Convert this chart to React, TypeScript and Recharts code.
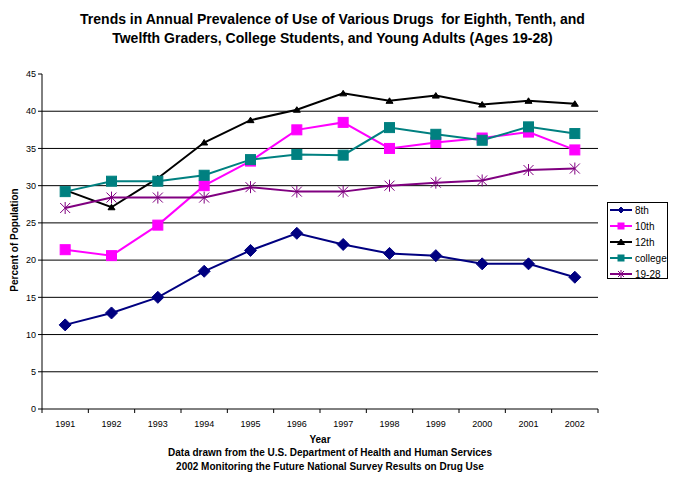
import { LineChart, Line, XAxis, YAxis, CartesianGrid, Legend } from 'recharts';

const years = [1991, 1992, 1993, 1994, 1995, 1996, 1997, 1998, 1999, 2000, 2001, 2002];
const eighth = [11.3, 12.9, 15.0, 18.5, 21.3, 23.6, 22.1, 20.9, 20.6, 19.5, 19.5, 17.7];
const tenth = [21.4, 20.6, 24.7, 30.0, 33.3, 37.5, 38.5, 35.0, 35.8, 36.4, 37.2, 34.8];
const twelfth = [29.4, 27.1, 31.0, 35.8, 38.8, 40.2, 42.4, 41.4, 42.1, 40.9, 41.4, 41.0];
const college = [29.2, 30.6, 30.6, 31.4, 33.5, 34.2, 34.1, 37.8, 36.9, 36.1, 37.9, 37.0];
const youngAdults = [27.0, 28.4, 28.4, 28.4, 29.8, 29.2, 29.2, 30.0, 30.4, 30.7, 32.1, 32.3];
const yTicks = [0, 5, 10, 15, 20, 25, 30, 35, 40, 45];
const gridValues = [5, 10, 15, 20, 25, 30, 35, 40];

const data = years.map((year, i) => ({
  year,
  eighth: eighth[i],
  tenth: tenth[i],
  twelfth: twelfth[i],
  college: college[i],
  youngAdults: youngAdults[i],
}));

const boundaries = [...years.map((y) => y - 0.5), years[years.length - 1] + 0.5];

const FONT = "Arial, 'Liberation Sans', sans-serif";
const PLOT_LEFT = 42;
const PLOT_RIGHT = 598;
const HALF_STEP = (PLOT_RIGHT - PLOT_LEFT) / years.length / 2;

const NAVY = '#000080';
const MAGENTA = '#FF00FF';
const TEAL = '#008080';
const PURPLE = '#800080';

const Diamond = ({ cx, cy, color, r = 6 }: any) => (
  <polygon points={`${cx},${cy - r} ${cx + r},${cy} ${cx},${cy + r} ${cx - r},${cy}`} fill={color} stroke={color} />
);
const Square = ({ cx, cy, color, r = 5 }: any) => (
  <rect x={cx - r} y={cy - r} width={2 * r} height={2 * r} fill={color} stroke={color} />
);
const Triangle = ({ cx, cy, color }: any) => (
  <polygon points={`${cx},${cy - 3} ${cx + 3.5},${cy + 2.5} ${cx - 3.5},${cy + 2.5}`} fill={color} stroke={color} />
);
const Star = ({ cx, cy, color, r = 5 }: any) => (
  <g stroke={color} strokeWidth={1}>
    <line x1={cx - r} y1={cy - r} x2={cx + r} y2={cy + r} />
    <line x1={cx - r} y1={cy + r} x2={cx + r} y2={cy - r} />
    <line x1={cx} y1={cy - r - 1} x2={cx} y2={cy + r + 1} />
  </g>
);

const series = [
  { key: 'eighth', name: '8th', color: NAVY, Shape: Diamond },
  { key: 'tenth', name: '10th', color: MAGENTA, Shape: Square },
  { key: 'twelfth', name: '12th', color: '#000000', Shape: Triangle },
  { key: 'college', name: 'college', color: TEAL, Shape: Square },
  { key: 'youngAdults', name: '19-28', color: PURPLE, Shape: Star },
];

// year labels sit between the boundary ticks
const YearTick = ({ x, y, payload }: any) => {
  if (payload.value > years[years.length - 1]) return null;
  return (
    <text x={x + HALF_STEP} y={y + 12} textAnchor="middle" fontSize={9} fontFamily={FONT} fill="#000">
      {payload.value + 0.5}
    </text>
  );
};

const LegendBox = () => (
  <div
    style={{
      position: 'absolute', left: 607, top: 202, width: 59, height: 75,
      border: '1px solid #000', background: '#fff', fontFamily: FONT, fontSize: 10,
    }}
  >
    {series.map((s, i) => (
      <div key={s.key} style={{ position: 'absolute', left: 1, top: i * 16, height: 14, display: 'flex', alignItems: 'center' }}>
        <svg width={24} height={14}>
          <line x1={1} y1={7} x2={23} y2={7} stroke={s.color} strokeWidth={2} />
          <s.Shape cx={12} cy={7} color={s.color} r={3} />
        </svg>
        <span style={{ marginLeft: 2 }}>{s.name}</span>
      </div>
    ))}
  </div>
);

const textStyle: any = { position: 'absolute', fontFamily: FONT, fontWeight: 'bold', color: '#000', textAlign: 'center' };

export default function App() {
  return (
    <div style={{ position: 'absolute', left: 0, top: 0, width: 677, height: 477, background: '#fff' }}>
      <LineChart width={677} height={477} data={data} margin={{ top: 74, right: 79, bottom: 48, left: 12 }}>
        <CartesianGrid horizontal vertical={false} stroke="#000" horizontalValues={gridValues} />
        <XAxis
          dataKey="year"
          type="number"
          domain={[boundaries[0], boundaries[boundaries.length - 1]]}
          ticks={boundaries}
          interval={0}
          height={20}
          stroke="#000"
          tickSize={4}
          tick={<YearTick />}
        />
        <YAxis
          domain={[0, 45]}
          ticks={yTicks}
          interval={0}
          width={30}
          stroke="#000"
          tickSize={4}
          tick={{ fill: '#000', fontSize: 9, fontFamily: FONT }}
        />
        {series.map((s) => (
          <Line
            key={s.key}
            dataKey={s.key}
            name={s.name}
            stroke={s.color}
            strokeWidth={2}
            isAnimationActive={false}
            dot={(p: any) => <s.Shape key={`${s.key}-${p.index}`} cx={p.cx} cy={p.cy} color={s.color} />}
            activeDot={false}
          />
        ))}
        <Legend content={() => null} />
      </LineChart>
      <LegendBox />
      <div style={{ ...textStyle, left: 0, width: 665, top: 10, fontSize: 14, lineHeight: '19px' }}>
        Trends in Annual Prevalence of Use of Various Drugs&nbsp; for Eighth, Tenth, and
        <br />
        Twelfth Graders, College Students, and Young Adults (Ages 19-28)
      </div>
      <div
        style={{
          ...textStyle, left: 14, top: 240, fontSize: 10, whiteSpace: 'nowrap',
          transform: 'translate(-50%, -50%) rotate(-90deg)',
        }}
      >
        Percent of Population
      </div>
      <div style={{ ...textStyle, left: 0, width: 640, top: 434, fontSize: 10 }}>Year</div>
      <div style={{ ...textStyle, left: 0, width: 660, top: 446, fontSize: 10, lineHeight: '14px' }}>
        Data drawn from the U.S. Department of Health and Human Services
        <br />
        2002 Monitoring the Future National Survey Results on Drug Use
      </div>
    </div>
  );
}
